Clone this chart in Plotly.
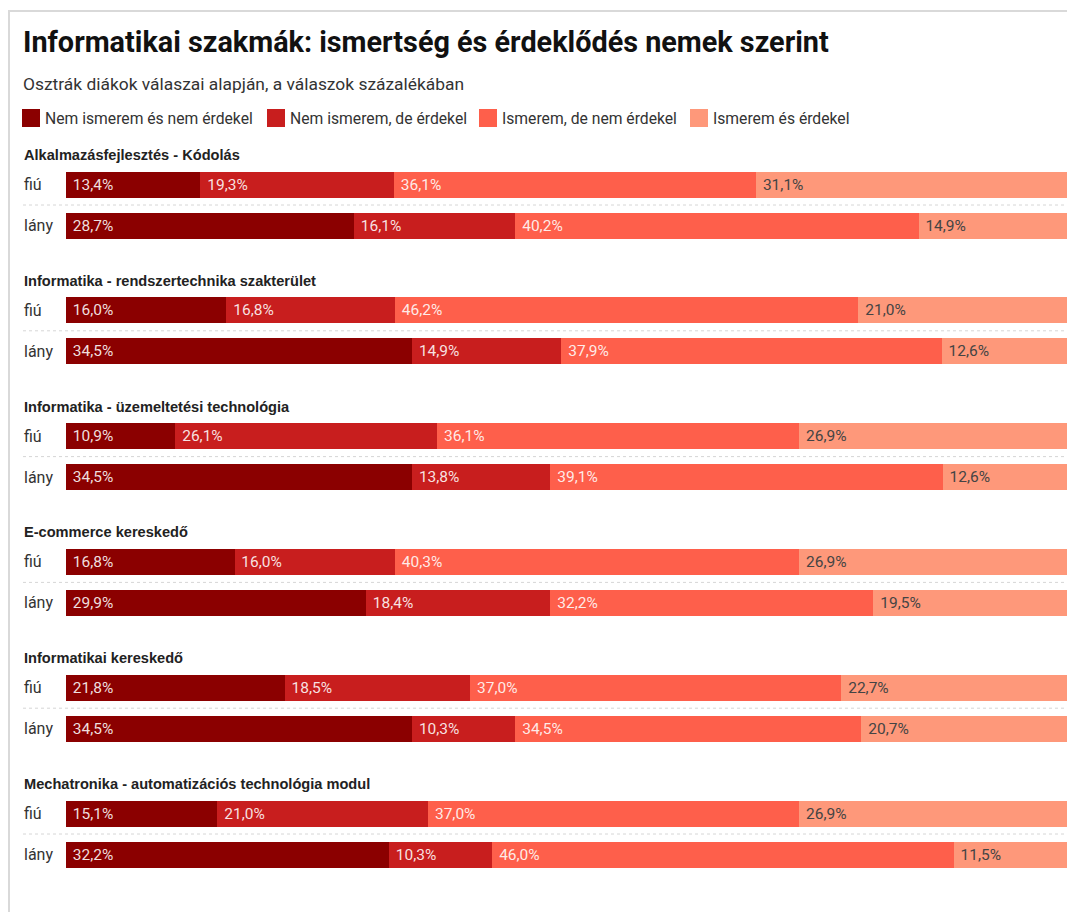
import plotly.graph_objects as go
from plotly.subplots import make_subplots

# adatok
szakmak = [
    "Alkalmazásfejlesztés - Kódolás",
    "Informatika - rendszertechnika szakterület",
    "Informatika - üzemeltetési technológia",
    "E-commerce kereskedő",
    "Informatikai kereskedő",
    "Mechatronika - automatizációs technológia modul",
]
nemek = ["fiú", "lány"]
valaszok = [
    "Nem ismerem és nem érdekel",
    "Nem ismerem, de érdekel",
    "Ismerem, de nem érdekel",
    "Ismerem és érdekel",
]

nem_nem_fiu = [13.4, 16.0, 10.9, 16.8, 21.8, 15.1]
nem_nem_lany = [28.7, 34.5, 34.5, 29.9, 34.5, 32.2]
nem_erd_fiu = [19.3, 16.8, 26.1, 16.0, 18.5, 21.0]
nem_erd_lany = [16.1, 14.9, 13.8, 18.4, 10.3, 10.3]
ism_nem_fiu = [36.1, 46.2, 36.1, 40.3, 37.0, 37.0]
ism_nem_lany = [40.2, 37.9, 39.1, 32.2, 34.5, 46.0]
ism_erd_fiu = [31.1, 21.0, 26.9, 26.9, 22.7, 26.9]
ism_erd_lany = [14.9, 12.6, 12.6, 19.5, 20.7, 11.5]

ertekek = [
    (nem_nem_fiu, nem_nem_lany),
    (nem_erd_fiu, nem_erd_lany),
    (ism_nem_fiu, ism_nem_lany),
    (ism_erd_fiu, ism_erd_lany),
]
szinek = ["#8b0000", "#c81e1e", "#fe5f4b", "#fe987a"]
szoveg_szinek = ["rgba(255,255,255,0.88)", "rgba(255,255,255,0.88)",
                 "rgba(255,255,255,0.88)", "#444444"]

# elrendezés pixelben (az oldal 8px-es body margóját levonva)
OFF = 8
W, H = 1075 - OFF, 912 - OFF
ML, MR, MT, MB = 58, 6, 156, 37
PW, PH = W - ML - MR, H - MT - MB


def px_x(px):
    # oldal-koordináta -> paper
    return (px - OFF - ML) / PW


def px_y(py):
    return (H - MB - (py - OFF)) / PH


n = len(szakmak)
sor_mag = 82
vs = (PH - n * sor_mag) / (n - 1) / PH

fig = make_subplots(rows=n, cols=1, shared_xaxes=True, vertical_spacing=vs)

for j, (fiu, lany) in enumerate(ertekek):
    for i in range(n):
        fig.add_trace(go.Bar(
            y=nemek,
            x=[fiu[i], lany[i]],
            orientation="h",
            name=valaszok[j],
            marker=dict(color=szinek[j], line=dict(width=0)),
            texttemplate="\u00a0%{x:.1f}%",
            textposition="inside",
            insidetextanchor="start",
            textangle=0,
            constraintext="none",
            textfont=dict(family="Roboto", size=15.5, color=szoveg_szinek[j]),
            hoverinfo="skip",
            showlegend=False,
        ), row=i + 1, col=1)

annotations = []
shapes = []
for i in range(n):
    ya = "y" if i == 0 else f"y{i + 1}"
    fig.update_yaxes(row=i + 1, col=1, categoryorder="array", categoryarray=nemek,
                     autorange="reversed", showticklabels=False, showgrid=False,
                     zeroline=False, fixedrange=True)
    annotations.append(dict(
        text=szakmak[i], xref="paper", yref=ya + " domain", x=px_x(22), y=1,
        xanchor="left", yanchor="middle", yshift=9, showarrow=False,
        font=dict(family="Liberation Sans", size=14.6, color="#222222", weight="bold"),
    ))
    for g in nemek:
        annotations.append(dict(
            text=g, xref="paper", yref=ya, x=px_x(21.5), y=g,
            xanchor="left", yanchor="middle", showarrow=False,
            font=dict(family="Roboto", size=16, color="#333333"),
        ))
    shapes.append(dict(
        type="line", xref="paper", yref=ya, x0=px_x(23), x1=1, y0=0.5, y1=0.5,
        line=dict(color="#d6d6d6", width=1, dash="dot"),
    ))

fig.update_xaxes(range=[0, 100], visible=False, fixedrange=True)

# cím, alcím
annotations.append(dict(
    text="<b>Informatikai szakmák: ismertség és érdeklődés nemek szerint</b>",
    xref="paper", yref="paper", x=px_x(21), y=px_y(42), xanchor="left", yanchor="middle",
    showarrow=False, font=dict(family="Roboto", size=28.8, color="#111111"),
))
annotations.append(dict(
    text="Osztrák diákok válaszai alapján, a válaszok százalékában",
    xref="paper", yref="paper", x=px_x(21), y=px_y(84), xanchor="left", yanchor="middle",
    showarrow=False, font=dict(family="Roboto", size=17.4, color="#333333"),
))

# jelmagyarázat
jel_x = [22, 267, 479, 690]
for j, nev in enumerate(valaszok):
    shapes.append(dict(
        type="rect", xref="paper", yref="paper",
        x0=px_x(jel_x[j]), x1=px_x(jel_x[j] + 18), y0=px_y(109), y1=px_y(127),
        fillcolor=szinek[j], line=dict(width=0),
    ))
    annotations.append(dict(
        text=nev, xref="paper", yref="paper", x=px_x(jel_x[j] + 20.5), y=px_y(118),
        xanchor="left", yanchor="middle", showarrow=False,
        font=dict(family="Roboto", size=15.7, color="#333333"),
    ))

# keret
shapes.append(dict(
    type="path", xref="paper", yref="paper",
    path=f"M {px_x(9)},{px_y(930)} L {px_x(9)},{px_y(11)} L {px_x(1090)},{px_y(11)}",
    line=dict(color="#d9d9d9", width=2),
))

fig.update_layout(
    width=W, height=H,
    margin=dict(l=ML, r=MR, t=MT, b=MB),
    barmode="stack",
    bargap=0.366,
    separators=", ",
    plot_bgcolor="white",
    paper_bgcolor="white",
    font=dict(family="Roboto"),
    annotations=annotations,
    shapes=shapes,
    showlegend=False,
)

fig.write_html("out.html")
